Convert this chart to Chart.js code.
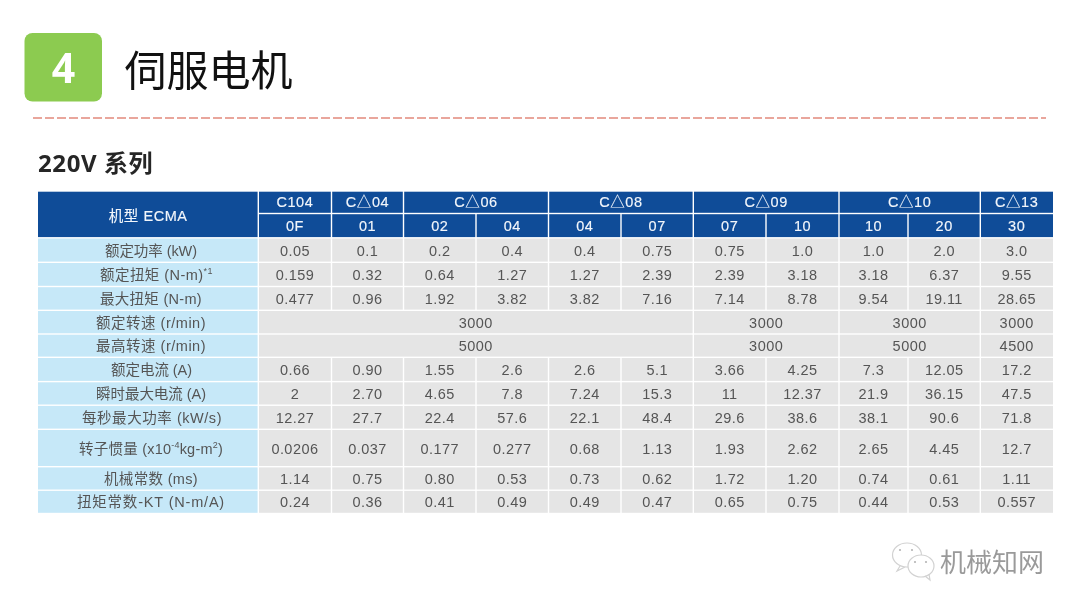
<!DOCTYPE html>
<html><head><meta charset="utf-8">
<style>html,body{margin:0;padding:0;background:#fff;overflow:hidden}canvas{display:block}</style>
<script src="https://cdn.jsdelivr.net/npm/chart.js@4"></script>
</head><body><canvas id="c" width="1080" height="608"></canvas>
<script>
// ---- data ----
const slideTitle = '伺服电机';
const slideNumber = '4';
const tableTitle = '220V 系列';
const cornerHeader = '机型 ECMA';
const watermark = '机械知网';
const frameGroups = ['C104','C△04','C△06','C△08','C△09','C△10','C△13'];
const frameSpans = [1,1,2,2,2,2,1];
const models = ['0F','01','02','04','04','07','07','10','10','20','30'];
const rowLabels = [
  [['额定功率 (kW)']],
  [['额定扭矩 (N-m)'],['*1',1]],
  [['最大扭矩 (N-m)']],
  [['额定转速 (r/min)']],
  [['最高转速 (r/min)']],
  [['额定电流 (A)']],
  [['瞬时最大电流 (A)']],
  [['每秒最大功率 (kW/s)']],
  [['转子惯量 (x10'],['-4',1],['kg-m'],['2',1],[')']],
  [['机械常数 (ms)']],
  [['扭矩常数-KT (N-m/A)']]
];
const ratedPower   = ['0.05','0.1','0.2','0.4','0.4','0.75','0.75','1.0','1.0','2.0','3.0'];
const ratedTorque  = ['0.159','0.32','0.64','1.27','1.27','2.39','2.39','3.18','3.18','6.37','9.55'];
const maxTorque    = ['0.477','0.96','1.92','3.82','3.82','7.16','7.14','8.78','9.54','19.11','28.65'];
const ratedSpeed   = ['3000','3000','3000','3000'];
const ratedSpeedSpans = [6,2,2,1];
const maxSpeed     = ['5000','3000','5000','4500'];
const maxSpeedSpans = [6,2,2,1];
const ratedCurrent = ['0.66','0.90','1.55','2.6','2.6','5.1','3.66','4.25','7.3','12.05','17.2'];
const peakCurrent  = ['2','2.70','4.65','7.8','7.24','15.3','11','12.37','21.9','36.15','47.5'];
const powerRate    = ['12.27','27.7','22.4','57.6','22.1','48.4','29.6','38.6','38.1','90.6','71.8'];
const inertia      = ['0.0206','0.037','0.177','0.277','0.68','1.13','1.93','2.62','2.65','4.45','12.7'];
const mechConstant = ['1.14','0.75','0.80','0.53','0.73','0.62','1.72','1.20','0.74','0.61','1.11'];
const torqueConst  = ['0.24','0.36','0.41','0.49','0.49','0.47','0.65','0.75','0.44','0.53','0.557'];

// ---- layout (in scale units) ----
const colEdges = [258.3,331.5,403.5,476,548.5,621,693.3,766,839,908,980.3,1053];
const tableLeft = 38;
const headEdges = [191,213.5,237.8];
const rowEdges = [237.8,262.3,286.5,310.3,334,357.3,381.6,405.2,429.3,466.7,490.2,513.5];
const labelExtents = [[105,197],[100,213],[100,202],[96,206],[96,206],[111,192],[96,206],[82,222],[79,223],[104,198],[77,225]];

const body = [ratedPower,ratedTorque,maxTorque,null,null,ratedCurrent,peakCurrent,powerRate,inertia,mechConstant,torqueConst];
const merged = {3:[ratedSpeed,ratedSpeedSpans],4:[maxSpeed,maxSpeedSpans]};

const NAVY='#0f4c98', SKY='#c6e8f8', GREY='#e5e5e5', INK='#555555';
const cells=[];
function add(x0,x1,y0,y1,text,kind,row){cells.push({x:(x0+x1)/2,y:(y0+y1)/2,x0,x1,y0,y1,text,kind,row});}
add(tableLeft,colEdges[0],headEdges[0],headEdges[2],cornerHeader,'corner');
let gi=0;
frameGroups.forEach((g,i)=>{add(colEdges[gi],colEdges[gi+frameSpans[i]],headEdges[0],headEdges[1],g,'head');gi+=frameSpans[i];});
models.forEach((m,i)=>add(colEdges[i],colEdges[i+1],headEdges[1],headEdges[2],m,'sub'));
rowLabels.forEach((parts,r)=>{
  add(tableLeft,colEdges[0],rowEdges[r],rowEdges[r+1],parts,'label',r);
  if(body[r]){body[r].forEach((v,c)=>add(colEdges[c],colEdges[c+1],rowEdges[r],rowEdges[r+1],v,'val',r));}
  else{let k=0;merged[r][0].forEach((v,i)=>{const s=merged[r][1][i];add(colEdges[k],colEdges[k+s],rowEdges[r],rowEdges[r+1],v,'val',r);k+=s;});}
});

const FONT='"Liberation Sans","Noto Sans CJK SC",sans-serif';
const tablePlugin={
  id:'table',
  beforeDatasetsDraw(chart){
    const ctx=chart.ctx,X=chart.scales.x,Y=chart.scales.y;
    const px=v=>X.getPixelForValue(v),py=v=>Y.getPixelForValue(v);
    ctx.save();
    // slide header
    ctx.fillStyle='#8ccb50';
    ctx.beginPath();ctx.roundRect(px(24.5),py(33),px(102)-px(24.5),py(101.5)-py(33),8);ctx.fill();
    ctx.filter='blur(0.4px)';
    ctx.fillStyle='#fff';ctx.font='bold 41px "Open Sans",sans-serif';ctx.textAlign='center';ctx.textBaseline='middle';
    ctx.fillText(slideNumber,px(63.5),py(71));
    ctx.fillStyle='#111';ctx.font='42px "Noto Sans CJK SC",sans-serif';ctx.textAlign='left';
    ctx.fillText(slideTitle,px(124.5),py(70));
    ctx.filter='none';
    ctx.strokeStyle='#e2897c';ctx.lineWidth=1.6;ctx.setLineDash([9,3]);
    ctx.beginPath();ctx.moveTo(px(33),py(118));ctx.lineTo(px(1046),py(118));ctx.stroke();ctx.setLineDash([]);
    ctx.filter='blur(0.4px)';
    ctx.fillStyle='#262626';ctx.font='bold 24px "Open Sans","Noto Sans CJK SC",sans-serif';ctx.letterSpacing='0.6px';
    ctx.fillText(tableTitle,px(38),py(165.5));
    ctx.letterSpacing='0px';ctx.filter='none';
    // cells
    cells.forEach(c=>{
      ctx.fillStyle=(c.kind==='head'||c.kind==='sub'||c.kind==='corner')?NAVY:c.kind==='label'?SKY:GREY;
      const g=0.7;
      const l=px(c.x0)+(c.x0===tableLeft?0:g),r=px(c.x1)-(c.x1===1053?0:g);
      const t=py(c.y0)+g,b=py(c.y1)-g;
      ctx.fillRect(l,t,r-l,b-t);
    });
    ctx.textBaseline='middle';
    ctx.filter='blur(0.35px)';
    cells.forEach(c=>{
      const cx=px(c.x);let cy=py(c.y);
      if(c.kind==='label'){
        const size=14.5;ctx.fillStyle=INK;ctx.textAlign='left';ctx.letterSpacing='0px';
        cy+=1.5;
        const ext=labelExtents[c.row];
        let w=0,n=0;
        c.text.forEach(p=>{ctx.font=(p[1]?size*0.62:size)+'px '+FONT;w+=ctx.measureText(p[0]).width;n+=[...p[0]].length;});
        const ls=(ext[1]-ext[0]-w)/n;
        ctx.letterSpacing=ls.toFixed(2)+'px';
        let x=px(ext[0]);
        c.text.forEach(p=>{ctx.font=(p[1]?size*0.62:size)+'px '+FONT;ctx.fillText(p[0],x,cy-(p[1]?4:0));x+=ctx.measureText(p[0]).width;});
      }else{
        ctx.textAlign='center';
        if(c.kind==='val'){ctx.fillStyle=INK;ctx.font='14.5px '+FONT;ctx.letterSpacing='0.45px';cy+=1.5;
          ctx.fillText(c.text,cx,cy);}
        else{
          ctx.fillStyle='#f2f6fb';ctx.strokeStyle='#f2f6fb';ctx.lineWidth=0.15;
          ctx.font='14.5px '+FONT;ctx.letterSpacing='0.55px';
          cy+=c.kind==='corner'?2.5:c.kind==='sub'?1.5:0.5;
          ctx.fillText(c.text,cx,cy);ctx.strokeText(c.text,cx,cy);
        }
      }
    });
    ctx.letterSpacing='0px';
    ctx.filter='none';
    // watermark
    ctx.strokeStyle='#d2d2d2';ctx.lineWidth=1.2;ctx.fillStyle='#fff';
    ctx.beginPath();ctx.ellipse(px(907),py(555),14.5,12,0,0,Math.PI*2);ctx.moveTo(px(900),py(566));ctx.lineTo(px(897),py(571));ctx.lineTo(px(905),py(567));ctx.stroke();
    ctx.beginPath();ctx.ellipse(px(921),py(566),13,11,0,0,Math.PI*2);ctx.fill();ctx.stroke();
    ctx.beginPath();ctx.moveTo(px(925),py(576));ctx.lineTo(px(930),py(580));ctx.lineTo(px(929),py(574));ctx.stroke();
    ctx.fillStyle='#b5b5b5';
    [[900,550],[912,550],[915,562],[926,562]].forEach(p=>{ctx.beginPath();ctx.arc(px(p[0]),py(p[1]),1.1,0,7);ctx.fill();});
    ctx.filter='blur(0.4px)';
    ctx.fillStyle='#9a9a9a';ctx.font='26px "Noto Sans CJK SC",sans-serif';ctx.textAlign='left';
    ctx.fillText(watermark,px(940),py(562));
    ctx.restore();
  }
};

new Chart(document.getElementById('c'),{
  type:'scatter',
  data:{datasets:[{label:'cells',data:cells,pointRadius:0,pointHoverRadius:0}]},
  options:{
    responsive:false,animation:false,devicePixelRatio:1,
    layout:{padding:0},
    plugins:{legend:{display:false},tooltip:{enabled:false},title:{display:false}},
    scales:{
      x:{type:'linear',min:0,max:1080,display:false},
      y:{type:'linear',min:0,max:608,reverse:true,display:false}
    }
  },
  plugins:[tablePlugin]
});
</script></body></html>
